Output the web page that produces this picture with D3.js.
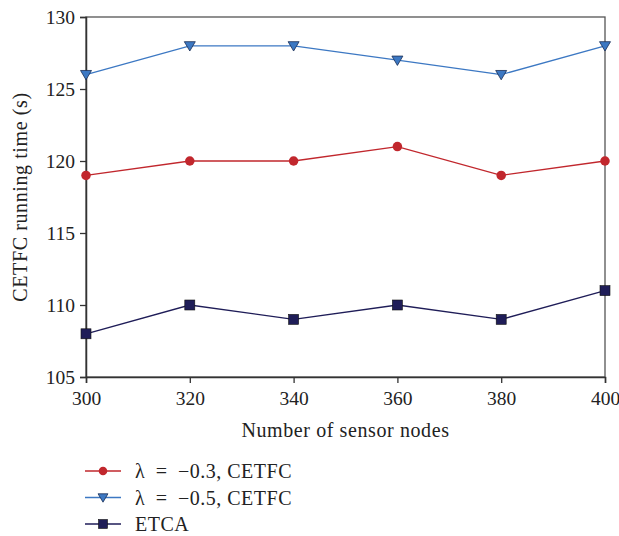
<!DOCTYPE html>
<html>
<head>
<meta charset="utf-8">
<script src="https://cdn.jsdelivr.net/npm/d3@7"></script>
<style>
body{margin:0;background:#fff;}
svg{display:block;}
</style>
</head>
<body>
<svg width="619" height="536"></svg>
<script>
var nodes = [300, 320, 340, 360, 380, 400];
var lam03 = [119, 120, 120, 121, 119, 120];
var lam05 = [126, 128, 128, 127, 126, 128];
var etca = [108, 110, 109, 110, 109, 111];
var yTicks = [105, 110, 115, 120, 125, 130];

var series = [
  {name: "\u03bb\u2002=\u2002\u22120.3, CETFC", values: lam03, color: "#c1272d", shape: "circle"},
  {name: "\u03bb\u2002=\u2002\u22120.5, CETFC", values: lam05, color: "#3c78c3", shape: "tri"},
  {name: "ETCA", values: etca, color: "#1f1d58", shape: "square"}
];

var svg = d3.select("svg");
var pLeft = 86, pRight = 605, pTop = 17, pBottom = 377;
var font = "'Liberation Serif', 'DejaVu Serif', serif";

var x = d3.scaleLinear().domain([300, 400]).range([pLeft, pRight]);
var y = d3.scaleLinear().domain([105, 130]).range([pBottom, pTop]);

// frame
svg.append("rect")
  .attr("x", pLeft).attr("y", pTop)
  .attr("width", pRight - pLeft).attr("height", pBottom - pTop)
  .attr("fill", "none").attr("stroke", "#555").attr("stroke-width", 1.3);

var xAxis = svg.append("g")
  .attr("transform", "translate(0," + pBottom + ")")
  .call(d3.axisBottom(x).tickValues(nodes).tickSize(6).tickPadding(8));
var yAxis = svg.append("g")
  .attr("transform", "translate(" + pLeft + ",0)")
  .call(d3.axisLeft(y).tickValues(yTicks).tickSize(6).tickPadding(5));

[xAxis, yAxis].forEach(function(a){
  a.select(".domain").attr("stroke", "#333").attr("stroke-width", 1.5);
  a.selectAll(".tick line").attr("stroke", "#333").attr("stroke-width", 1.3);
  a.selectAll("text").attr("font-family", font).attr("font-size", "19.5px").attr("fill", "#222");
});

svg.append("text")
  .attr("x", (pLeft + pRight) / 2).attr("y", 437)
  .attr("text-anchor", "middle")
  .attr("font-family", font).attr("font-size", "20px").attr("letter-spacing", "0.6px").attr("fill", "#222")
  .text("Number of sensor nodes");

svg.append("text")
  .attr("transform", "translate(27," + ((pTop + pBottom) / 2) + ") rotate(-90)")
  .attr("text-anchor", "middle")
  .attr("font-family", font).attr("font-size", "20px").attr("letter-spacing", "0.6px").attr("fill", "#222")
  .text("CETFC running time (s)");

function marker(g, s, cx, cy, size) {
  if (s.shape == "circle") {
    g.append("circle").attr("cx", cx).attr("cy", cy).attr("r", size * 0.95)
      .attr("fill", s.color);
  } else if (s.shape == "tri") {
    var h = size * 1.1;
    g.append("path")
      .attr("d", "M" + (cx - h) + "," + (cy - h * 0.75) + "L" + (cx + h) + "," + (cy - h * 0.75) + "L" + cx + "," + (cy + h * 0.95) + "Z")
      .attr("fill", s.color).attr("stroke", "#1b2f55").attr("stroke-width", 0.8);
  } else {
    g.append("rect").attr("x", cx - size).attr("y", cy - size)
      .attr("width", size * 2).attr("height", size * 2)
      .attr("fill", s.color).attr("stroke", "#111").attr("stroke-width", 0.6);
  }
}

var line = d3.line()
  .x(function(d, i){ return x(nodes[i]); })
  .y(function(d){ return y(d); });

series.forEach(function(s){
  var g = svg.append("g");
  g.append("path").datum(s.values)
    .attr("d", line)
    .attr("fill", "none").attr("stroke", s.color).attr("stroke-width", 1.3);
  s.values.forEach(function(v, i){
    marker(g, s, x(nodes[i]), y(v), 5);
  });
});

// legend
var lg = svg.append("g");
series.forEach(function(s, i){
  var ly = 471 + i * 26.5;
  lg.append("line").attr("x1", 85).attr("x2", 121).attr("y1", ly).attr("y2", ly)
    .attr("stroke", s.color).attr("stroke-width", 1.3);
  marker(lg, s, 103, ly, 4.5);
  lg.append("text").attr("x", 135).attr("y", ly + 7)
    .attr("font-family", font).attr("font-size", "20px")
    .attr("letter-spacing", "0.5px").attr("fill", "#222")
    .text(s.name);
});
</script>
</body>
</html>
